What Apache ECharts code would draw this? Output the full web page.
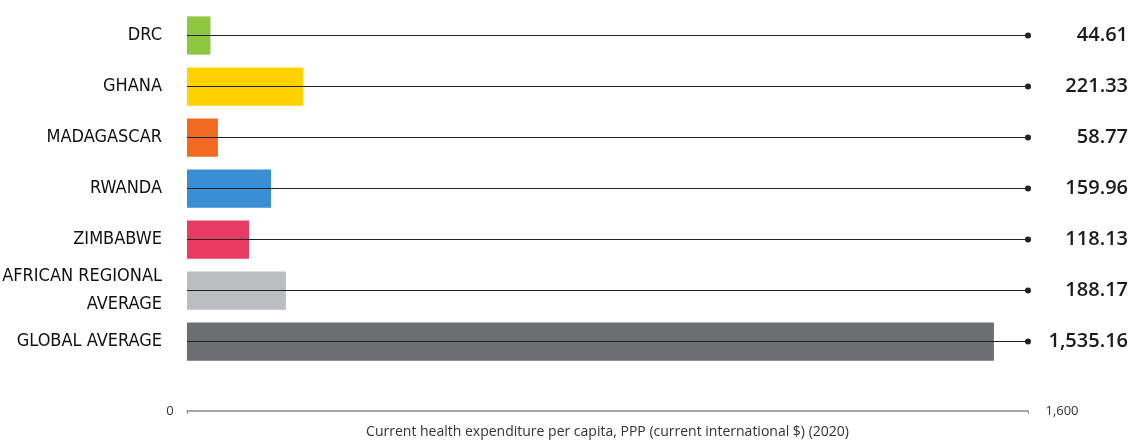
<!DOCTYPE html>
<html>
<head>
<meta charset="utf-8">
<script src="https://cdn.jsdelivr.net/npm/echarts@6/dist/echarts.min.js"></script>
<style>
  html, body { margin: 0; padding: 0; background: #fff; }
  #chart { width: 1132px; height: 441px; }
</style>
</head>
<body>
<div id="chart"></div>
<script>
// data
var categories = ["DRC", "GHANA", "MADAGASCAR", "RWANDA", "ZIMBABWE", "AFRICAN REGIONAL\nAVERAGE", "GLOBAL AVERAGE"];
var values = [44.61, 221.33, 58.77, 159.96, 118.13, 188.17, 1535.16];
var axisTicks = [0, 1600];
var axisTitle = "Current health expenditure per capita, PPP (current international $) (2020)";

// bar colours, same order as categories
var palette = ["#8dc63f", "#ffd200", "#f26a21", "#3a8fd4", "#e83a62", "#bcbdc0", "#6d6e71"];

function fmt(v, digits) {
  return v.toLocaleString("en-US", { minimumFractionDigits: digits, maximumFractionDigits: digits });
}

var chart = echarts.init(document.getElementById("chart"));

chart.setOption({
  animation: false,
  grid: { left: 187, right: 104, top: 10, bottom: 74, outerBoundsMode: "none", containLabel: false },
  xAxis: {
    type: "value",
    min: axisTicks[0],
    max: axisTicks[1],
    interval: axisTicks[1] - axisTicks[0],
    offset: 44,
    splitLine: { show: false },
    axisLine: { show: true, lineStyle: { color: "#8a8a8a", width: 1.5 } },
    axisTick: { show: true, length: 3, lineStyle: { color: "#8a8a8a" } },
    axisLabel: {
      margin: 0,
      verticalAlign: "middle",
      color: "#333",
      fontFamily: "Open Sans",
      fontSize: 13,
      formatter: function (v) {
        return v === axisTicks[0] ? "{l|" + fmt(v, 0) + "}" : "{r|" + fmt(v, 0) + "}";
      },
      rich: {
        l: { padding: [0, 34, 0, 0], fontFamily: "Open Sans", fontSize: 13, color: "#333" },
        r: { padding: [0, 0, 0, 68], fontFamily: "Open Sans", fontSize: 13, color: "#333" }
      }
    },
    name: axisTitle,
    nameLocation: "middle",
    nameGap: 14,
    nameTextStyle: { fontFamily: "Open Sans", fontSize: 14, color: "#333" }
  },
  yAxis: [
    {
      type: "category",
      data: categories,
      inverse: true,
      axisLine: { show: false },
      axisTick: { show: false },
      axisLabel: {
        margin: 25,
        color: "#111",
        fontFamily: "'Liberation Sans Narrow', 'DejaVu Sans Condensed', sans-serif",
        fontSize: 18,
        lineHeight: 28,
        align: "right"
      }
    },
    {
      type: "category",
      data: categories,
      inverse: true,
      position: "right",
      axisLine: { show: false },
      axisTick: { show: false },
      axisLabel: {
        margin: 100,
        align: "right",
        color: "#1a1a1a",
        fontFamily: "Open Sans",
        fontWeight: 600,
        fontSize: 20,
        formatter: function (v, i) {
          return fmt(values[i], 2);
        }
      }
    }
  ],
  series: [
    {
      type: "bar",
      barCategoryGap: "25%",
      data: values.map(function (v, i) {
        return { value: v, itemStyle: { color: palette[i] } };
      }),
      markLine: {
        silent: true,
        symbol: ["none", "circle"],
        symbolSize: 6,
        label: { show: false },
        lineStyle: { color: "#222", width: 1.2, type: "solid" },
        z: 5,
        data: categories.map(function (c) {
          return [
            { coord: [axisTicks[0], c] },
            { coord: [axisTicks[1], c] }
          ];
        })
      }
    }
  ]
});
</script>
</body>
</html>
